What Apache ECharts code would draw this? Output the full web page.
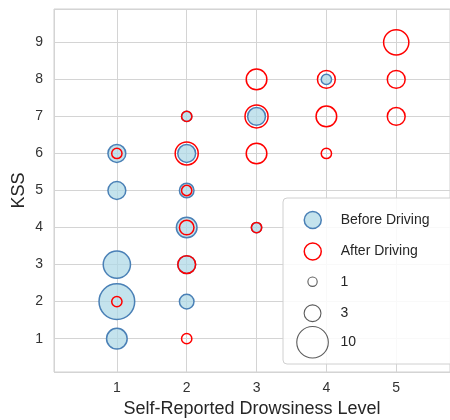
<!DOCTYPE html>
<html><head><meta charset="utf-8">
<script src="https://cdn.jsdelivr.net/npm/echarts@6/dist/echarts.min.js"></script>
<style>html,body{margin:0;padding:0;background:#fff}#c{width:450px;height:420px}</style>
</head><body><div id="c"></div>
<script>
// ---- data ----
const xTicks = [1, 2, 3, 4, 5];
const yTicks = [1, 2, 3, 4, 5, 6, 7, 8, 9];
const beforeX = [1, 1, 1, 1, 1, 2, 2, 2, 2, 2, 2, 3, 3, 4];
const beforeY = [6, 5, 3, 2, 1, 7, 6, 5, 4, 3, 2, 7, 4, 8];
const beforeN = [3, 3, 7, 12, 4, 1, 3, 2, 4, 3, 2, 3, 1, 1];
const afterX = [1, 1, 2, 2, 2, 2, 2, 2, 3, 3, 3, 3, 4, 4, 4, 5, 5, 5];
const afterY = [6, 2, 7, 6, 5, 4, 3, 1, 8, 7, 6, 4, 8, 7, 6, 9, 8, 7];
const afterN = [1, 1, 1, 5, 1, 2, 3, 1, 4, 5, 4, 1, 3, 4, 1, 6, 3, 3];
const sizeLegend = [1, 3, 10];
const seriesNames = ['Before Driving', 'After Driving'];
const xTitle = 'Self-Reported Drowsiness Level';
const yTitle = 'KSS';

const FONT = '"Liberation Sans", Arial, sans-serif';
const sz = n => 10.3 * Math.sqrt(n);
const blueFill = 'rgba(173,216,230,0.72)';
const blueEdge = '#4a80b6';
const red = '#ff0000';

const beforeData = beforeX.map((x, i) => [x, beforeY[i], beforeN[i]]);
const afterData = afterX.map((x, i) => [x, afterY[i], afterN[i]]);

// legend layout (positions only)
const legCX = 312, textX = 340;
const legRows = [
  { name: seriesNames[0], d: 17, cy: 219.3, style: { color: blueFill, borderColor: blueEdge, borderWidth: 1.5 } },
  { name: seriesNames[1], d: 17, cy: 250.7, style: { color: 'rgba(0,0,0,0)', borderColor: red, borderWidth: 1.5 } },
  { name: String(sizeLegend[0]), d: sz(sizeLegend[0]) - 1, cy: 281.7, style: { color: 'rgba(0,0,0,0)', borderColor: '#333', borderWidth: 1.1 } },
  { name: String(sizeLegend[1]), d: sz(sizeLegend[1]) - 1, cy: 312.7, style: { color: 'rgba(0,0,0,0)', borderColor: '#333', borderWidth: 1.1 } },
  { name: String(sizeLegend[2]), d: sz(sizeLegend[2]) - 1, cy: 341.7, style: { color: 'rgba(0,0,0,0)', borderColor: '#333', borderWidth: 1.1 } }
];
const iconW = 2 * (textX - 5 - legCX);
const legends = legRows.map(r => ({
  show: true,
  selectedMode: false,
  orient: 'vertical',
  padding: 0,
  left: legCX - r.d / 2,
  top: r.cy - Math.max(r.d, 14) / 2,
  itemWidth: iconW,
  itemHeight: r.d,
  z: 5,
  textStyle: { fontFamily: FONT, fontSize: 14, color: '#262626' },
  data: [{ name: r.name, icon: 'circle', itemStyle: r.style }]
}));

const chart = echarts.init(document.getElementById('c'), null, { renderer: 'canvas' });
const axisCommon = {
  type: 'value',
  minInterval: 1,
  maxInterval: 1,
  axisLine: { show: false },
  axisTick: { show: false },
  splitLine: { show: true, lineStyle: { color: '#d4d4d4', width: 1 } },
  nameLocation: 'middle',
  nameMoveOverlap: false,
  nameTextStyle: { fontFamily: FONT, fontSize: 18, color: '#262626' }
};
chart.setOption({
  animation: false,
  backgroundColor: '#ffffff',
  textStyle: { fontFamily: FONT },
  grid: { left: 54, top: 9, right: 0, bottom: 48, outerBoundsMode: 'none', containLabel: false,
    show: true, borderColor: '#d0d0d0', borderWidth: 1, backgroundColor: 'transparent' },
  xAxis: Object.assign({}, axisCommon, {
    min: 0.1, max: 5.77,
    name: xTitle, nameGap: 28,
    axisLabel: { showMinLabel: false, showMaxLabel: false, margin: 9, fontFamily: FONT, fontSize: 14, color: '#333',
      formatter: v => xTicks.includes(v) ? String(v) : '' }
  }),
  yAxis: Object.assign({}, axisCommon, {
    min: 0.1, max: 9.9,
    name: yTitle, nameGap: 26,
    axisLabel: { showMinLabel: false, showMaxLabel: false, margin: 11, fontFamily: FONT, fontSize: 14, color: '#333',
      formatter: v => yTicks.includes(v) ? String(v) : '' }
  }),
  legend: legends,
  graphic: [{
    type: 'rect', z: 3, silent: true,
    shape: { x: 283, y: 198, width: 190, height: 166, r: 4 },
    style: { fill: 'rgba(255,255,255,0.85)', stroke: '#d0d0d0', lineWidth: 1 }
  }],
  series: [
    { name: seriesNames[0], type: 'scatter', data: beforeData, symbol: 'circle',
      symbolSize: v => sz(v[2]), z: 2,
      itemStyle: { color: blueFill, borderColor: blueEdge, borderWidth: 1.5, opacity: 1 } },
    { name: seriesNames[1], type: 'scatter', data: afterData, symbol: 'circle',
      symbolSize: v => sz(v[2]), z: 2,
      itemStyle: { color: 'rgba(0,0,0,0)', borderColor: red, borderWidth: 1.5, opacity: 1 } },
    { name: String(sizeLegend[0]), type: 'scatter', data: [] },
    { name: String(sizeLegend[1]), type: 'scatter', data: [] },
    { name: String(sizeLegend[2]), type: 'scatter', data: [] }
  ]
});
</script></body></html>
